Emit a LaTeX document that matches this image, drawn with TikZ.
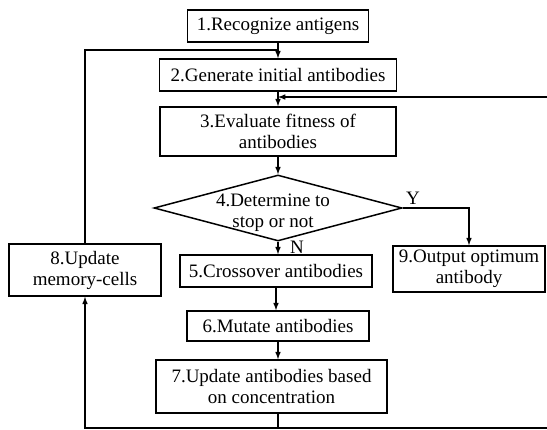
\documentclass[tikz,border=0pt]{standalone}
\usepackage{fontspec}
\setmainfont{Liberation Serif}
\usetikzlibrary{shapes.geometric}

\begin{document}
\begin{tikzpicture}
  [x=1pt,y=-1pt,>=latex,line width=1.5pt,
   every node/.style={font=\fontsize{19}{21}\selectfont},
   stepbox/.style={draw,align=center,inner sep=2pt},
   decision/.style={draw,diamond,inner sep=0pt}]
  \useasboundingbox (0,0) rectangle (547,430);
  \node[stepbox,minimum width=181pt,minimum height=32pt] (b1) at (278,26) {1.Recognize antigens};
  \node[stepbox,minimum width=237pt,minimum height=32pt] (b2) at (278,75) {2.Generate initial antibodies};
  \node[stepbox,minimum width=236pt,minimum height=49pt] (b3) at (278,131.5) {3.Evaluate fitness of\\antibodies};
  \node[decision,minimum width=248pt,minimum height=66pt] (d4) at (278,208) {};
  \node[align=center,inner sep=0pt] (d4text) at (273,213) {4.Determine to\\stop or not};
  \node[stepbox,minimum width=192pt,minimum height=32pt] (b5) at (276,271) {5.Crossover antibodies};
  \node[stepbox,minimum width=182pt,minimum height=30pt] (b6) at (278,326) {6.Mutate antibodies};
  \node[stepbox,minimum width=231pt,minimum height=53pt] (b7) at (271.5,386.5) {7.Update antibodies based\\on concentration};
  \node[stepbox,minimum width=152pt,minimum height=52pt] (b8) at (85,270) {8.Update\\memory-cells};
  \node[stepbox,minimum width=152pt,minimum height=46pt] (b9) at (469,269) {9.Output optimum\\antibody};
  \node (ly) at (413,198) {Y};
  \node (ln) at (297,247) {N};
  \coordinate (j2) at (278,50);
  \coordinate (j3) at (278,97);
  \coordinate (j7) at (278,428);
  \coordinate (er) at (547,97);
  \coordinate (el) at (547,428);
  \foreach \from/\to in {b1/b2,b2/b3,b3/d4,d4/b5,b5/b6,b6/b7}
    \draw[->] (\from.south) -- (\from.south |- \to.north);
  \draw[->] (d4.east) -| (b9);
  \draw (b7.south -| j7) -- (j7) -- (el);
  \draw[->] (j7) -| (b8);
  \draw (b8) |- (j2);
  \draw[->] (er) -- (j3);
\end{tikzpicture}
\end{document}
